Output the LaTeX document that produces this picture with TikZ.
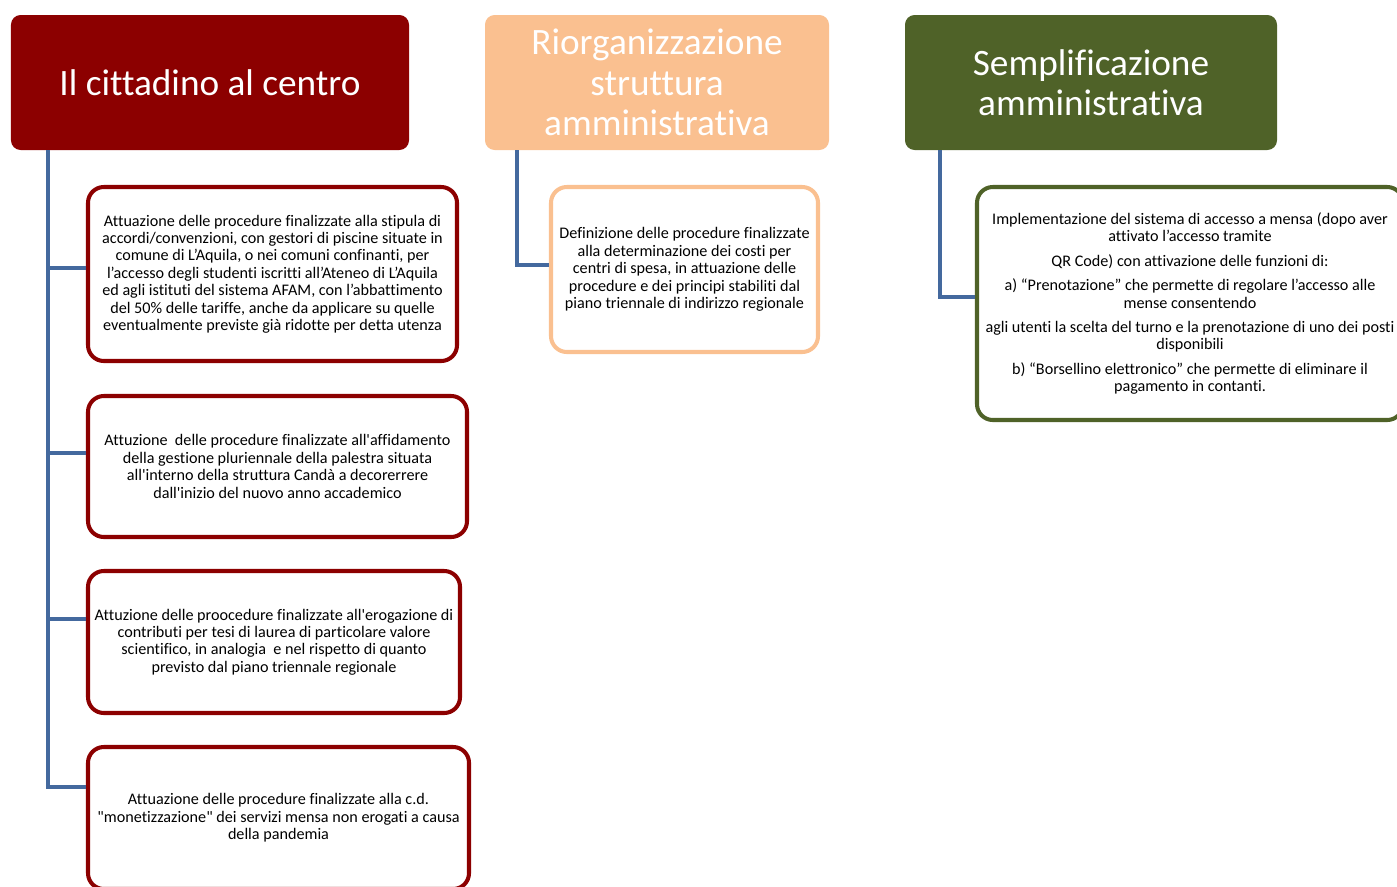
\documentclass[tikz,border=0pt]{standalone}
\usepackage{fontspec}
\setmainfont{Carlito}[Ligatures=NoCommon]
\usetikzlibrary{positioning,calc}
\definecolor{redA}{HTML}{8C0000}
\definecolor{orangeA}{HTML}{FAC090}
\definecolor{greenA}{HTML}{4F6228}
\definecolor{blueA}{HTML}{44699E}
\newcommand{\sq}{\textquotesingle}

\begin{document}
\begin{tikzpicture}[
    header/.style={
      rectangle, rounded corners=5.5pt, fill=#1, text=white,
      minimum height=2.7cm, align=center,
      font=\fontsize{21.2}{23}\selectfont
    },
    item/.style={
      rectangle, rounded corners=9pt, draw=#1, line width=2.3pt, fill=white,
      align=center, font=\fontsize{9.2}{9.9}\selectfont
    },
    link/.style={draw=blueA, line width=2.3pt}
  ]
  \useasboundingbox (0,0) rectangle (27.94,-17.72);
  % headers
  \node[header=redA, minimum width=7.96cm] (cittadino) at (4.2,-1.65) {Il cittadino al centro};
  \node[header=orangeA, minimum width=6.88cm] (riorg) at (13.14,-1.65) {Riorganizzazione\\struttura\\amministrativa};
  \node[header=greenA, minimum width=7.44cm] (sempl) at (21.82,-1.65) {Semplificazione\\amministrativa};
  % boxes
  \node[item=redA, minimum width=7.38cm, minimum height=3.48cm] (piscine) at (5.45,-5.48)
    {Attuazione delle procedure finalizzate alla stipula di\\accordi/convenzioni, con gestori di piscine situate in\\comune di L’Aquila, o nei comuni confinanti, per\\l’accesso degli studenti iscritti all’Ateneo di L’Aquila\\ed agli istituti del sistema AFAM, con l’abbattimento\\del 50\% delle tariffe, anche da applicare su quelle\\eventualmente previste già ridotte per detta utenza};
  \node[item=redA, minimum width=7.58cm, minimum height=2.82cm] (palestra) at (5.55,-9.33)
    {Attuzione\ \ delle procedure finalizzate all\sq affidamento\\della gestione pluriennale della palestra situata\\all\sq interno della struttura Candà a decorerrere\\dall\sq inizio del nuovo anno accademico};
  \node[item=redA, minimum width=7.44cm, minimum height=2.84cm] (tesi) at (5.48,-12.84)
    {Attuzione delle proocedure finalizzate all\sq erogazione di\\contributi per tesi di laurea di particolare valore\\scientifico, in analogia\ \ e nel rispetto di quanto\\previsto dal piano triennale regionale};
  \node[item=redA, minimum width=7.62cm, minimum height=2.84cm] (mensa) at (5.57,-16.36)
    {Attuazione delle procedure finalizzate alla c.d.\\\textquotedbl monetizzazione\textquotedbl\ dei servizi mensa non erogati a causa\\della pandemia};
  \node[item=orangeA, minimum width=5.34cm, minimum height=3.3cm] (costi) at (13.69,-5.39)
    {Definizione delle procedure finalizzate\\alla determinazione dei costi per\\centri di spesa, in attuazione delle\\procedure e dei principi stabiliti dal\\piano triennale di indirizzo regionale};
  \node[item=greenA, minimum width=8.52cm, minimum height=4.66cm] (accesso) at (23.8,-6.07)
    {Implementazione del sistema di accesso a mensa (dopo aver\\attivato l’accesso tramite\\[4pt]
     QR Code) con attivazione delle funzioni di:\\[4pt]
     a) “Prenotazione” che permette di regolare l’accesso alle\\mense consentendo\\[4pt]
     agli utenti la scelta del turno e la prenotazione di uno dei posti\\disponibili\\[4pt]
     b) “Borsellino elettronico” che permette di eliminare il\\pagamento in contanti.};
  % connectors
  \coordinate (t1) at ($(cittadino.south west)+(0.74,0)$);
  \coordinate (t2) at ($(riorg.south west)+(0.64,0)$);
  \coordinate (t3) at ($(sempl.south west)+(0.70,0)$);
  \draw[link] (t1) |- ([yshift=0.12cm]piscine.west);
  \draw[link] (t1) |- ([yshift=0.27cm]palestra.west);
  \draw[link] (t1) |- ([yshift=0.46cm]tesi.west);
  \draw[link] (t1) |- ([yshift=0.62cm]mensa.west);
  \draw[link] (t2) |- ([yshift=0.09cm]costi.west);
  \draw[link] (t3) |- ([yshift=0.13cm]accesso.west);
\end{tikzpicture}
\end{document}
